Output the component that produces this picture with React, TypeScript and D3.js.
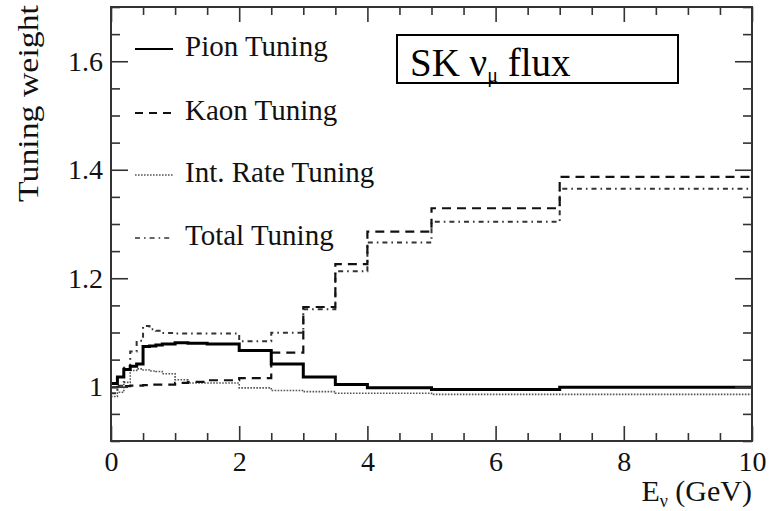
import React, { useRef, useEffect } from 'react';
import * as d3 from 'd3';

// bin edges in GeV
const EDGES = [0, 0.1, 0.2, 0.3, 0.4, 0.5, 0.6, 0.7, 0.8, 1.0, 1.2, 1.5, 2.0, 2.5, 3.0, 3.5, 4.0, 5.0, 7.0, 10.0];

const PION = [1.006, 1.018, 1.032, 1.038, 1.042, 1.074, 1.075, 1.077, 1.079, 1.081, 1.080, 1.079, 1.067, 1.042, 1.018, 1.004, 0.998, 0.995, 0.999];
const KAON = [0.999, 1.0, 1.001, 1.002, 1.002, 1.003, 1.004, 1.004, 1.004, 1.007, 1.009, 1.012, 1.016, 1.063, 1.147, 1.226, 1.286, 1.329, 1.387];
const INTRATE = [0.982, 0.99, 1.008, 1.03, 1.033, 1.031, 1.029, 1.028, 1.024, 1.013, 1.007, 1.007, 0.998, 0.993, 0.991, 0.988, 0.988, 0.986, 0.986];
const TOTAL = [0.988, 1.002, 1.035, 1.065, 1.085, 1.112, 1.106, 1.103, 1.099, 1.098, 1.098, 1.098, 1.084, 1.0995, 1.143, 1.213, 1.266, 1.304, 1.365];

const SERIES_NAMES = ['Pion Tuning', 'Kaon Tuning', 'Int. Rate Tuning', 'Total Tuning'];
const X_TICKS = [0, 2, 4, 6, 8, 10];
const Y_TICKS = [1, 1.2, 1.4, 1.6];

const STYLES = [
  { stroke: '#000', width: 3, dash: null },
  { stroke: '#111', width: 2.2, dash: '9,6' },
  { stroke: '#555', width: 1.6, dash: '1.6,1.4' },
  { stroke: '#333', width: 2, dash: '5,4,1.6,4' },
];

const SERIF = "'Liberation Serif', 'Times New Roman', Times, serif";

const App: React.FC = () => {
  const svgRef = useRef<SVGSVGElement>(null);

  useEffect(() => {
    if (!svgRef.current) return;
    const svg = d3.select(svgRef.current);
    svg.selectAll('*').remove();

    const left = 111, right = 752, top = 7, bottom = 441;
    const x = d3.scaleLinear().domain([0, 10]).range([left, right]);
    const y = d3.scaleLinear().domain([0.9, 1.7]).range([bottom, top]);

    const series = [PION, KAON, INTRATE, TOTAL];
    const line = d3.line<[number, number]>()
      .x(d => x(d[0]))
      .y(d => y(d[1]))
      .curve(d3.curveStepAfter);

    const plot = svg.append('g');
    // draw back to front: dotted, dash-dot, dashed, solid
    [2, 3, 1, 0].forEach(si => {
      const vals = series[si];
      const pts: [number, number][] = vals.map((v, i) => [EDGES[i], v]);
      pts.push([EDGES[EDGES.length - 1], vals[vals.length - 1]]);
      const st = STYLES[si];
      plot.append('path')
        .attr('d', line(pts))
        .attr('fill', 'none')
        .attr('stroke', st.stroke)
        .attr('stroke-width', st.width)
        .attr('stroke-dasharray', st.dash);
    });

    // ticks (inward, on all four sides)
    const xMinor = d3.range(0, 10.001, 0.5).filter(v => v % 2 !== 0);
    const yMinor = d3.range(0.9, 1.7001, 0.05).map(v => +v.toFixed(2)).filter(v => !Y_TICKS.includes(v));
    const axisColor = '#333';

    const addAxis = (axis: d3.Axis<d3.NumberValue>, tx: number, ty: number) => {
      const g = svg.append('g').attr('transform', `translate(${tx},${ty})`).call(axis);
      g.select('.domain').remove();
      g.attr('font-family', SERIF).attr('font-size', 28);
      g.selectAll('line').attr('stroke', axisColor).attr('stroke-width', 1.6);
      return g;
    };

    const yLab = addAxis(d3.axisLeft(y).tickValues(Y_TICKS).tickSize(-17).tickPadding(8).tickFormat(d3.format('~g')), left, 0);
    addAxis(d3.axisLeft(y).tickValues(yMinor).tickSize(-9).tickFormat(() => ''), left, 0);
    addAxis(d3.axisRight(y).tickValues(Y_TICKS).tickSize(-17).tickFormat(() => ''), right, 0);
    addAxis(d3.axisRight(y).tickValues(yMinor).tickSize(-9).tickFormat(() => ''), right, 0);
    const xLab = addAxis(d3.axisBottom(x).tickValues(X_TICKS).tickSize(-15).tickPadding(10).tickFormat(d3.format('d')), 0, bottom);
    addAxis(d3.axisBottom(x).tickValues(xMinor).tickSize(-8).tickFormat(() => ''), 0, bottom);
    addAxis(d3.axisTop(x).tickValues(X_TICKS).tickSize(-15).tickFormat(() => ''), 0, top);
    addAxis(d3.axisTop(x).tickValues(xMinor).tickSize(-8).tickFormat(() => ''), 0, top);

    [yLab, xLab].forEach(g => g.selectAll('text')
      .attr('fill', '#111')
      .style('font-family', SERIF)
      .style('font-size', '28px'));

    // frame
    svg.append('rect')
      .attr('x', left).attr('y', top)
      .attr('width', right - left).attr('height', bottom - top)
      .attr('fill', 'none').attr('stroke', axisColor).attr('stroke-width', 2);

    // axis titles
    svg.append('text')
      .attr('transform', `translate(38,5) rotate(-90)`)
      .attr('text-anchor', 'end')
      .style('font-family', SERIF)
      .style('font-size', '29px')
      .attr('textLength', 197)
      .attr('lengthAdjust', 'spacingAndGlyphs')
      .attr('fill', '#111')
      .text('Tuning weight');

    const xt = svg.append('text')
      .attr('x', right).attr('y', 501)
      .attr('text-anchor', 'end')
      .style('font-family', SERIF)
      .style('font-size', '30px')
      .attr('fill', '#111');
    xt.append('tspan').text('E');
    xt.append('tspan').style('font-size', '18px').attr('dy', 6).text('ν');
    xt.append('tspan').attr('dy', -6).text(' (GeV)');

    // legend
    const legendY = [49, 113, 175, 238];
    SERIES_NAMES.forEach((name, i) => {
      const st = STYLES[i];
      svg.append('line')
        .attr('x1', 135).attr('x2', 173)
        .attr('y1', legendY[i]).attr('y2', legendY[i])
        .attr('stroke', st.stroke)
        .attr('stroke-width', i === 0 ? 2 : st.width * 0.8)
        .attr('stroke-dasharray', i === 1 ? '8,6' : st.dash);
      svg.append('text')
        .attr('x', 185).attr('y', legendY[i] + 7)
        .style('font-family', SERIF)
        .style('font-size', '29px')
        .attr('fill', '#111')
        .text(name);
    });

    // title box
    svg.append('rect')
      .attr('x', 397).attr('y', 35)
      .attr('width', 281).attr('height', 48)
      .attr('fill', '#fff').attr('stroke', '#000').attr('stroke-width', 2);
    const tt = svg.append('text')
      .attr('x', 410).attr('y', 76)
      .style('font-family', SERIF)
      .style('font-size', '39px')
      .attr('fill', '#000');
    tt.append('tspan').text('SK ν');
    tt.append('tspan').style('font-size', '20px').attr('dy', 6).text('μ');
    tt.append('tspan').attr('dy', -6).text(' flux');
  }, []);

  return (
    <svg
      ref={svgRef}
      width={780}
      height={511}
      style={{ position: 'absolute', left: 0, top: 0, background: '#fff' }}
    />
  );
};

export default App;
